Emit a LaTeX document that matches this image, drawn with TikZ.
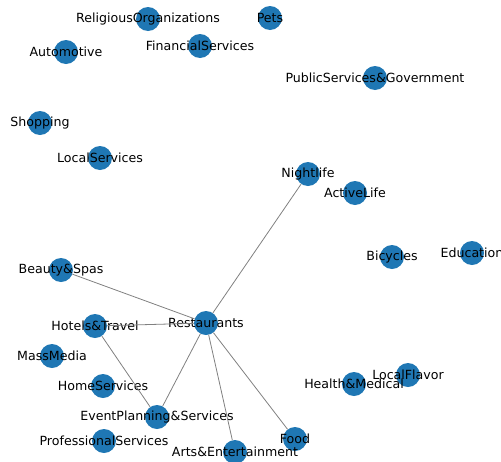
\documentclass[tikz,border=0pt]{standalone}
\usepackage{fontspec}
\setmainfont{DejaVu Sans}
\begin{document}
\begin{tikzpicture}[x=1pt,y=-1pt,
  dot/.style={circle,fill=dotblue,draw=none,minimum size=24pt,inner sep=0pt},
  lbl/.style={font=\fontsize{12.6}{14}\selectfont,text=black,inner sep=0pt},
  edge/.style={draw=gray,line width=0.8pt}]
\definecolor{dotblue}{HTML}{1F77B4}
\useasboundingbox (0,0) rectangle (501,461);
\def\nd#1#2#3#4{\node[dot,label={[lbl,name=#1l]center:#4}] (#1) at (#2,#3) {};}
\nd{rel}{148}{19}{ReligiousOrganizations}
\nd{pets}{270}{18}{Pets}
\nd{auto}{66}{52}{Automotive}
\nd{fin}{200}{46}{FinancialServices}
\nd{pub}{375}{78}{PublicServices\&Government}
\nd{shop}{40}{123}{Shopping}
\nd{loc}{100}{158}{LocalServices}
\nd{night}{308}{174}{Nightlife}
\nd{active}{355}{193}{ActiveLife}
\nd{beauty}{61}{270}{Beauty\&Spas}
\nd{bic}{392}{257}{Bicycles}
\nd{edu}{472}{253}{Education}
\nd{rest}{206}{323}{Restaurants}
\nd{hotel}{95}{326}{Hotels\&Travel}
\nd{mass}{52}{356}{MassMedia}
\nd{home}{103}{386}{HomeServices}
\nd{flav}{408}{375}{LocalFlavor}
\nd{health}{354}{384}{Health\&Medical}
\nd{event}{157}{417}{EventPlanning\&Services}
\nd{prof}{104}{441}{ProfessionalServices}
\nd{food}{295}{439}{Food}
\nd{arts}{235}{452}{Arts\&Entertainment}
\draw[edge] (rest) -- (night);
\draw[edge] (rest) -- (beauty);
\draw[edge] (rest) -- (hotel);
\draw[edge] (rest) -- (event);
\draw[edge] (rest) -- (arts);
\draw[edge] (rest) -- (food);
\draw[edge] (hotel) -- (event);
\end{tikzpicture}
\end{document}
